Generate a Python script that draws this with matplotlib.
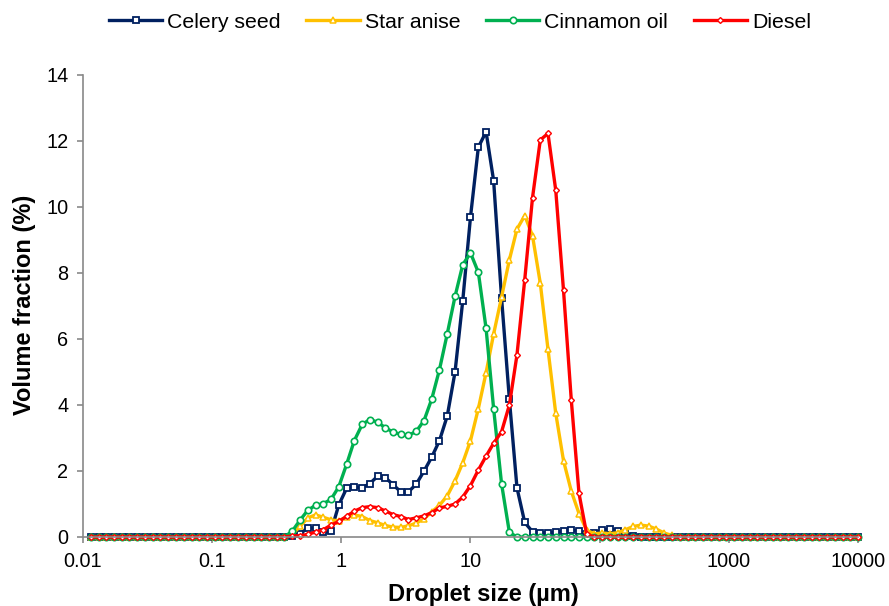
import matplotlib
matplotlib.use('Agg')
import matplotlib.pyplot as plt
from matplotlib.ticker import NullLocator

plt.rcParams['font.family'] = ['Liberation Sans', 'DejaVu Sans']

# Size classes (µm)
sizes = [0.0115, 0.0132, 0.0151, 0.0174, 0.0200, 0.0229, 0.0263, 0.0302, 0.0347, 0.0398,
         0.0457, 0.0525, 0.0603, 0.0692, 0.0794, 0.0912, 0.105, 0.120, 0.138, 0.158,
         0.182, 0.209, 0.240, 0.275, 0.316, 0.363, 0.417, 0.479, 0.550, 0.631,
         0.724, 0.832, 0.955, 1.10, 1.26, 1.45, 1.66, 1.91, 2.19, 2.51,
         2.88, 3.31, 3.80, 4.37, 5.01, 5.75, 6.61, 7.59, 8.71, 10.0,
         11.5, 13.2, 15.1, 17.4, 20.0, 22.9, 26.3, 30.2, 34.7, 39.8,
         45.7, 52.5, 60.3, 69.2, 79.4, 91.2, 105, 120, 138, 158,
         182, 209, 240, 275, 316, 363, 417, 479, 550, 631,
         724, 832, 955, 1100, 1260, 1450, 1660, 1910, 2190, 2510,
         2880, 3310, 3800, 4370, 5010, 5750, 6610, 7590, 8710, 10000]

celery_seed = [0, 0, 0, 0, 0, 0, 0, 0, 0, 0,
               0, 0, 0, 0, 0, 0, 0, 0, 0, 0,
               0, 0, 0, 0, 0, 0, 0.02, 0.10, 0.27, 0.27,
               0.14, 0.17, 0.97, 1.48, 1.52, 1.49, 1.62, 1.84, 1.80, 1.59,
               1.37, 1.37, 1.60, 2.00, 2.42, 2.92, 3.67, 5.00, 7.16, 9.70,
               11.81, 12.28, 10.80, 7.24, 4.17, 1.49, 0.44, 0.16, 0.13, 0.13,
               0.15, 0.18, 0.20, 0.18, 0.10, 0.12, 0.20, 0.25, 0.18, 0.08,
               0.03, 0, 0, 0, 0, 0, 0, 0, 0, 0,
               0, 0, 0, 0, 0, 0, 0, 0, 0, 0,
               0, 0, 0, 0, 0, 0, 0, 0, 0, 0]

star_anise = [0, 0, 0, 0, 0, 0, 0, 0, 0, 0,
              0, 0, 0, 0, 0, 0, 0, 0, 0, 0,
              0, 0, 0, 0, 0, 0, 0.08, 0.32, 0.58, 0.67,
              0.60, 0.52, 0.49, 0.60, 0.67, 0.62, 0.50, 0.43, 0.35, 0.30,
              0.29, 0.34, 0.42, 0.55, 0.76, 0.96, 1.25, 1.70, 2.25, 2.92,
              3.89, 4.98, 6.15, 7.27, 8.40, 9.33, 9.74, 9.13, 7.69, 5.69,
              3.75, 2.31, 1.39, 0.71, 0.20, 0.10, 0.12, 0.10, 0.13, 0.22,
              0.32, 0.36, 0.33, 0.24, 0.12, 0.05, 0, 0, 0, 0,
              0, 0, 0, 0, 0, 0, 0, 0, 0, 0,
              0, 0, 0, 0, 0, 0, 0, 0, 0, 0]

cinnamon_oil = [0, 0, 0, 0, 0, 0, 0, 0, 0, 0,
                0, 0, 0, 0, 0, 0, 0, 0, 0, 0,
                0, 0, 0, 0, 0, 0, 0.18, 0.51, 0.81, 0.96,
                1.01, 1.14, 1.52, 2.21, 2.92, 3.41, 3.56, 3.48, 3.31, 3.18,
                3.11, 3.08, 3.20, 3.53, 4.18, 5.07, 6.16, 7.29, 8.25, 8.61,
                8.02, 6.32, 3.89, 1.61, 0.14, 0, 0, 0, 0, 0,
                0, 0, 0, 0, 0, 0, 0, 0, 0, 0,
                0, 0, 0, 0, 0, 0, 0, 0, 0, 0,
                0, 0, 0, 0, 0, 0, 0, 0, 0, 0,
                0, 0, 0, 0, 0, 0, 0, 0, 0, 0]

diesel = [0, 0, 0, 0, 0, 0, 0, 0, 0, 0,
          0, 0, 0, 0, 0, 0, 0, 0, 0, 0,
          0, 0, 0, 0, 0, 0, 0.03, 0.04, 0.08, 0.15,
          0.22, 0.36, 0.47, 0.63, 0.78, 0.89, 0.92, 0.89, 0.79, 0.68,
          0.62, 0.53, 0.58, 0.64, 0.74, 0.88, 0.93, 1.00, 1.21, 1.56,
          2.03, 2.45, 2.84, 3.19, 4.00, 5.52, 7.80, 10.28, 12.03, 12.23,
          10.51, 7.47, 4.15, 1.32, 0.08, 0, 0, 0, 0, 0,
          0, 0, 0, 0, 0, 0, 0, 0, 0, 0,
          0, 0, 0, 0, 0, 0, 0, 0, 0, 0,
          0, 0, 0, 0, 0, 0, 0, 0, 0, 0]

series_names = ['Celery seed', 'Star anise', 'Cinnamon oil', 'Diesel']
x_ticks = [0.01, 0.1, 1, 10, 100, 1000, 10000]
x_tick_labels = ['0.01', '0.1', '1', '10', '100', '1000', '10000']
y_ticks = [0, 2, 4, 6, 8, 10, 12, 14]

W, H = 889, 606
fig = plt.figure(figsize=(W / 100, H / 100), dpi=100)
ax = fig.add_axes([83 / W, 1 - 537 / H, (858 - 83) / W, (537 - 75) / H])

styles = [
    dict(color='#002060', marker='s', ms=4.6, mew=1.3),
    dict(color='#FFC000', marker='^', ms=4.2, mew=1.1),
    dict(color='#00B050', marker='o', ms=4.6, mew=1.2),
    dict(color='#FF0000', marker='D', ms=3.0, mew=1.0),
]
for name, vals, st in zip(series_names, [celery_seed, star_anise, cinnamon_oil, diesel], styles):
    ax.plot(sizes, vals, color=st['color'], lw=2.4, marker=st['marker'],
            markersize=st['ms'], markerfacecolor='white', markeredgecolor=st['color'],
            markeredgewidth=st['mew'], label=name, clip_on=False)

ax.set_xscale('log')
ax.set_xlim(0.01, 10000)
ax.set_ylim(0, 14)
ax.set_xticks(x_ticks)
ax.set_xticklabels(x_tick_labels)
ax.xaxis.set_minor_locator(NullLocator())
ax.set_yticks(y_ticks)
ax.set_yticklabels([str(v) for v in y_ticks])

grey = '#898989'
for s in ['top', 'right']:
    ax.spines[s].set_visible(False)
for s in ['left', 'bottom']:
    ax.spines[s].set_color(grey)
    ax.spines[s].set_linewidth(1.2)
ax.tick_params(axis='both', direction='out', length=4.5, width=1.2, color=grey,
               labelsize=14.3, labelcolor='black')
ax.tick_params(axis='x', pad=6)
ax.tick_params(axis='y', pad=6)

fig.text(483 / W, 1 - 594 / H, 'Droplet size (µm)', ha='center', va='center',
         fontsize=17, fontweight='bold')
fig.text(25 / W, 1 - 305 / H, 'Volume fraction (%)', ha='center', va='center',
         rotation=90, fontsize=17, fontweight='bold')

fig.legend(loc='center', bbox_to_anchor=(460 / W, 1 - 22 / H), ncol=4, frameon=False,
           fontsize=15.3, handlelength=2.5, handletextpad=0.25, columnspacing=1.2,
           numpoints=1)

fig.savefig('out.png', dpi=100)
